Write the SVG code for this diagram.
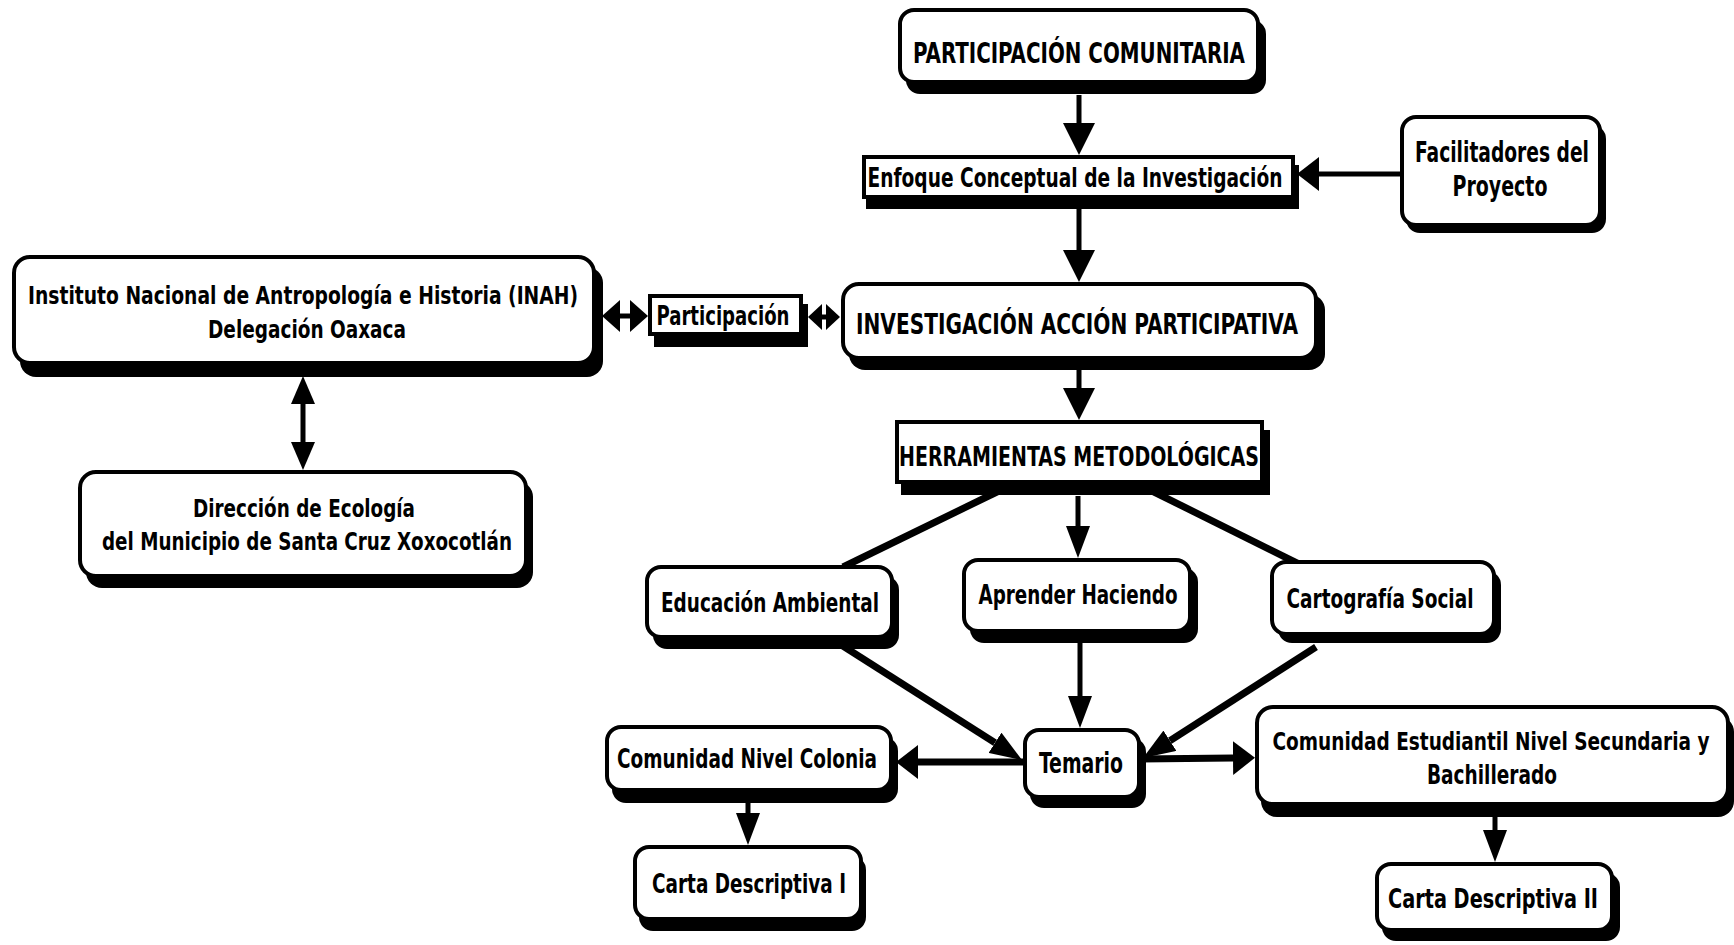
<svg xmlns="http://www.w3.org/2000/svg" width="1734" height="945" viewBox="0 0 1734 945">
<style>
.box{fill:#fff;stroke:#000;stroke-width:4}
.sh{fill:#000}
.t{font-family:"DejaVu Sans Condensed","DejaVu Sans",Verdana,sans-serif;font-weight:bold;fill:#000;text-anchor:middle}
.c{stroke:#000;stroke-width:5;fill:none}
.d{stroke:#000;stroke-width:7;fill:none}
</style>
<defs>
<marker id="mA" markerUnits="userSpaceOnUse" viewBox="0 0 32 32" markerWidth="32" markerHeight="32" refX="0" refY="16" orient="auto"><path d="M0,0 L32,16 L0,32 z" fill="#000"/></marker>
<marker id="mB" markerUnits="userSpaceOnUse" viewBox="0 0 32 24" markerWidth="32" markerHeight="24" refX="0" refY="12" orient="auto"><path d="M0,0 L32,12 L0,24 z" fill="#000"/></marker>
<marker id="mC" markerUnits="userSpaceOnUse" viewBox="0 0 22 34" markerWidth="22" markerHeight="34" refX="0" refY="17" orient="auto"><path d="M0,0 L22,17 L0,34 z" fill="#000"/></marker>
<marker id="mD" markerUnits="userSpaceOnUse" viewBox="0 0 18 32" markerWidth="18" markerHeight="32" refX="0" refY="16" orient="auto-start-reverse"><path d="M0,0 L18,16 L0,32 z" fill="#000"/></marker>
<marker id="mE" markerUnits="userSpaceOnUse" viewBox="0 0 14 26" markerWidth="14" markerHeight="26" refX="0" refY="13" orient="auto-start-reverse"><path d="M0,0 L14,13 L0,26 z" fill="#000"/></marker>
<marker id="mB2" markerUnits="userSpaceOnUse" viewBox="0 0 28 24" markerWidth="28" markerHeight="24" refX="0" refY="12" orient="auto-start-reverse"><path d="M0,0 L28,12 L0,24 z" fill="#000"/></marker>
</defs>

<g id="connectors">
<line class="c" x1="1079" y1="95" x2="1079" y2="123" marker-end="url(#mA)"/>
<line class="c" x1="1079" y1="209" x2="1079" y2="250" marker-end="url(#mA)"/>
<line class="c" x1="1400" y1="174" x2="1319" y2="174" marker-end="url(#mC)"/>
<line class="c" x1="620" y1="316" x2="630" y2="316" marker-start="url(#mD)" marker-end="url(#mD)"/>
<line class="c" x1="822" y1="317" x2="826" y2="317" marker-start="url(#mE)" marker-end="url(#mE)"/>
<line class="c" x1="303" y1="404" x2="303" y2="442" marker-start="url(#mB2)" marker-end="url(#mB2)"/>
<line class="c" x1="1079" y1="370" x2="1079" y2="388" marker-end="url(#mA)"/>
<line class="d" x1="1001" y1="490" x2="843" y2="567"/>
<line class="d" x1="1150" y1="490" x2="1305" y2="567"/>
<line class="c" x1="1078" y1="496" x2="1078" y2="526" marker-end="url(#mB)"/>
<line class="c" x1="1080" y1="643" x2="1080" y2="696" marker-end="url(#mB)"/>
<line class="d" x1="835" y1="641" x2="995" y2="742.8" marker-end="url(#mB)"/>
<line class="d" x1="1316" y1="647" x2="1169.9" y2="740.7" marker-end="url(#mB)"/>
<line class="d" stroke-width="8" x1="1140" y1="759" x2="1233" y2="758" marker-end="url(#mC)"/>
<line class="d" x1="1023" y1="762" x2="918" y2="762" marker-end="url(#mC)"/>
<line class="c" x1="748" y1="802" x2="748" y2="813" marker-end="url(#mB)"/>
<line class="c" x1="1495" y1="817" x2="1495" y2="830" marker-end="url(#mB)"/>
</g>

<g id="n-participacion-comunitaria">
<rect class="sh" x="906" y="20" width="360" height="74" rx="14"/>
<rect class="box" x="900" y="10" width="358" height="72" rx="14"/>
<text class="t" x="1079" y="63" font-size="28" textLength="332" lengthAdjust="spacingAndGlyphs">PARTICIPACIÓN COMUNITARIA</text>
</g>

<g id="n-enfoque">
<rect class="sh" x="866" y="165" width="433" height="44"/>
<rect class="box" x="864" y="157" width="429" height="40"/>
<text class="t" x="1075" y="187" font-size="27" textLength="415" lengthAdjust="spacingAndGlyphs">Enfoque Conceptual de la Investigación</text>
</g>

<g id="n-facilitadores">
<rect class="sh" x="1406" y="125" width="200" height="108" rx="14"/>
<rect class="box" x="1402" y="117" width="198" height="108" rx="14"/>
<text class="t" x="1502" y="162" font-size="28" textLength="174" lengthAdjust="spacingAndGlyphs">Facilitadores del</text>
<text class="t" x="1500" y="196" font-size="28" textLength="95" lengthAdjust="spacingAndGlyphs">Proyecto</text>
</g>

<g id="n-inah">
<rect class="sh" x="20" y="267" width="583" height="110" rx="16"/>
<rect class="box" x="14" y="257" width="580" height="106" rx="16"/>
<text class="t" x="303" y="304" font-size="25.5" textLength="550" lengthAdjust="spacingAndGlyphs">Instituto Nacional de Antropología e Historia (INAH)</text>
<text class="t" x="307" y="338" font-size="25.5" textLength="198" lengthAdjust="spacingAndGlyphs">Delegación Oaxaca</text>
</g>

<g id="n-participacion">
<rect class="sh" x="654" y="304" width="154" height="43"/>
<rect class="box" x="650" y="296" width="151" height="38"/>
<text class="t" x="723" y="325" font-size="26" textLength="133" lengthAdjust="spacingAndGlyphs">Participación</text>
</g>

<g id="n-iap">
<rect class="sh" x="849" y="294" width="476" height="76" rx="16"/>
<rect class="box" x="843" y="284" width="473" height="74" rx="16"/>
<text class="t" x="1077" y="334" font-size="28" textLength="442" lengthAdjust="spacingAndGlyphs">INVESTIGACIÓN ACCIÓN PARTICIPATIVA</text>
</g>

<g id="n-herramientas">
<rect class="sh" x="901" y="430" width="369" height="65"/>
<rect class="box" x="897" y="422" width="365" height="60"/>
<text class="t" x="1079" y="466" font-size="27" textLength="360" lengthAdjust="spacingAndGlyphs">HERRAMIENTAS METODOLÓGICAS</text>
</g>

<g id="n-direccion">
<rect class="sh" x="86" y="481" width="447" height="107" rx="16"/>
<rect class="box" x="80" y="472" width="446" height="104" rx="16"/>
<text class="t" x="304" y="517" font-size="25.5" textLength="222" lengthAdjust="spacingAndGlyphs">Dirección de Ecología</text>
<text class="t" x="307" y="550" font-size="25.5" textLength="410" lengthAdjust="spacingAndGlyphs">del Municipio de Santa Cruz Xoxocotlán</text>
</g>

<g id="n-educacion">
<rect class="sh" x="653" y="576" width="246" height="73" rx="14"/>
<rect class="box" x="647" y="567" width="245" height="70" rx="14"/>
<text class="t" x="770" y="612" font-size="27" textLength="218" lengthAdjust="spacingAndGlyphs">Educación Ambiental</text>
</g>

<g id="n-aprender">
<rect class="sh" x="970" y="568" width="228" height="75" rx="14"/>
<rect class="box" x="964" y="560" width="226" height="71" rx="14"/>
<text class="t" x="1078" y="604" font-size="26.5" textLength="199" lengthAdjust="spacingAndGlyphs">Aprender Haciendo</text>
</g>

<g id="n-cartografia">
<rect class="sh" x="1278" y="571" width="223" height="72" rx="14"/>
<rect class="box" x="1272" y="562" width="222" height="72" rx="14"/>
<text class="t" x="1380" y="608" font-size="27" textLength="187" lengthAdjust="spacingAndGlyphs">Cartografía Social</text>
</g>

<g id="n-temario">
<rect class="sh" x="1030" y="738" width="116" height="70" rx="14"/>
<rect class="box" x="1025" y="730" width="114" height="67" rx="14"/>
<text class="t" x="1081" y="773" font-size="27.5" textLength="84" lengthAdjust="spacingAndGlyphs">Temario</text>
</g>

<g id="n-comunidad-colonia">
<rect class="sh" x="612" y="737" width="286" height="66" rx="14"/>
<rect class="box" x="607" y="727" width="284" height="63" rx="14"/>
<text class="t" x="747" y="768" font-size="27" textLength="260" lengthAdjust="spacingAndGlyphs">Comunidad Nivel Colonia</text>
</g>

<g id="n-carta-1">
<rect class="sh" x="639" y="856" width="227" height="75" rx="14"/>
<rect class="box" x="635" y="847" width="226" height="72" rx="14"/>
<text class="t" x="749" y="893" font-size="26.5" textLength="194" lengthAdjust="spacingAndGlyphs">Carta Descriptiva I</text>
</g>

<g id="n-comunidad-estudiantil">
<rect class="sh" x="1261" y="716" width="473" height="101" rx="16"/>
<rect class="box" x="1257" y="707" width="471" height="97" rx="16"/>
<text class="t" x="1491" y="750" font-size="25" textLength="437" lengthAdjust="spacingAndGlyphs">Comunidad Estudiantil Nivel Secundaria y</text>
<text class="t" x="1492" y="784" font-size="26" textLength="130" lengthAdjust="spacingAndGlyphs">Bachillerado</text>
</g>

<g id="n-carta-2">
<rect class="sh" x="1382" y="873" width="238" height="68" rx="14"/>
<rect class="box" x="1377" y="864" width="235" height="66" rx="14"/>
<text class="t" x="1493" y="908" font-size="27" textLength="210" lengthAdjust="spacingAndGlyphs">Carta Descriptiva II</text>
</g>
</svg>
